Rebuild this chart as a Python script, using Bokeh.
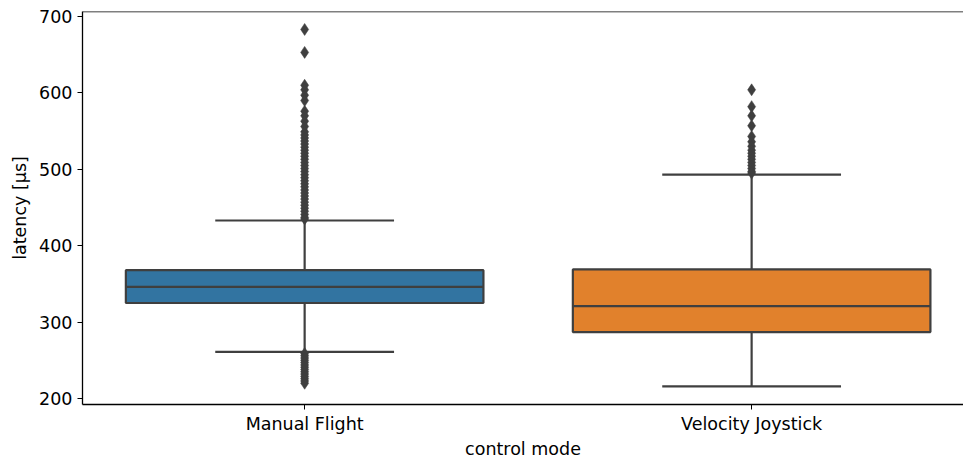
from bokeh.plotting import figure
from bokeh.models import Span, FixedTicker, Range1d, ColumnDataSource
from bokeh.embed import file_html
from bokeh.resources import INLINE

# Box statistics per control mode (latency in µs)
modes = ["Manual Flight", "Velocity Joystick"]
q1 = [325, 287]
median = [346, 321]
q3 = [368, 369]
whisker_low = [261, 216]
whisker_high = [433, 493]
box_colors = ["#3274a1", "#e1812c"]

# Outliers beyond the whiskers
manual_outliers = [
    683, 653, 610, 604, 597, 590, 576, 570, 563, 556, 549, 545, 541, 537, 533,
    529, 525, 521, 517, 513, 509, 505, 501, 497, 493, 489, 485, 481, 477, 473,
    469, 465, 461, 457, 453, 449, 445, 441, 437, 435,
    259, 256, 253, 250, 247, 244, 241, 238, 235, 232, 229, 226, 223, 220,
]
joystick_outliers = [
    604, 582, 570, 557, 543, 536, 530, 525, 521, 517, 513, 509, 505, 501, 497, 495,
]

ink = "#3f3f3f"
font = "DejaVu Sans"

p = figure(
    width=963, height=461,
    output_backend="svg", toolbar_location=None,
    x_range=Range1d(-0.497, 1.474), y_range=Range1d(192.2, 706.5),
    min_border_left=82, min_border_top=11, min_border_bottom=56, min_border_right=0,
)
p.outline_line_color = None
p.xgrid.visible = False
p.ygrid.visible = False
p.background_fill_color = "white"
p.border_fill_color = "white"

positions = list(range(len(modes)))
box_width = 0.8
cap_width = 0.4

src = ColumnDataSource(dict(
    x=positions, q1=q1, q3=q3, med=median, lo=whisker_low, hi=whisker_high,
    color=box_colors,
    x0=[x - box_width / 2 for x in positions], x1=[x + box_width / 2 for x in positions],
    c0=[x - cap_width / 2 for x in positions], c1=[x + cap_width / 2 for x in positions],
))

# whiskers
p.segment(x0="x", y0="q3", x1="x", y1="hi", source=src, line_color=ink, line_width=2.2)
p.segment(x0="x", y0="lo", x1="x", y1="q1", source=src, line_color=ink, line_width=2.2)
# caps
p.segment(x0="c0", y0="hi", x1="c1", y1="hi", source=src, line_color=ink, line_width=2.2)
p.segment(x0="c0", y0="lo", x1="c1", y1="lo", source=src, line_color=ink, line_width=2.2)
# boxes
p.quad(left="x0", right="x1", bottom="q1", top="q3", source=src,
       fill_color="color", line_color=ink, line_width=2.2)
# medians
p.segment(x0="x0", y0="med", x1="x1", y1="med", source=src, line_color=ink, line_width=2.2)

# outliers
for xpos, vals in zip(positions, [manual_outliers, joystick_outliers]):
    p.scatter([xpos] * len(vals), vals, marker="diamond", size=12,
              fill_color=ink, line_color=ink, line_width=0.5)

# top spine
p.add_layout(Span(location=706.5, dimension="width", line_color="black", line_width=1.3))

p.xaxis.ticker = FixedTicker(ticks=positions)
p.xaxis.major_label_overrides = {i: m for i, m in enumerate(modes)}
p.yaxis.ticker = FixedTicker(ticks=[200, 300, 400, 500, 600, 700])
p.xaxis.axis_label = "control mode"
p.yaxis.axis_label = "latency [µs]"

for ax in (p.xaxis, p.yaxis):
    ax.minor_tick_line_color = None
    ax.major_tick_out = 5
    ax.major_tick_in = 0
    ax.axis_line_color = "black"
    ax.axis_line_width = 1.3
    ax.major_tick_line_color = "black"
    ax.major_label_text_font = font
    ax.major_label_text_font_size = "17.5px"
    ax.major_label_text_color = "black"
    ax.axis_label_text_font = font
    ax.axis_label_text_font_size = "17.5px"
    ax.axis_label_text_font_style = "normal"
    ax.axis_label_text_color = "black"

p.xaxis.major_label_standoff = 4
p.xaxis.axis_label_standoff = 2
p.yaxis.major_label_standoff = 5
p.yaxis.axis_label_standoff = 6

open("out.html", "w").write(file_html(p, INLINE))
